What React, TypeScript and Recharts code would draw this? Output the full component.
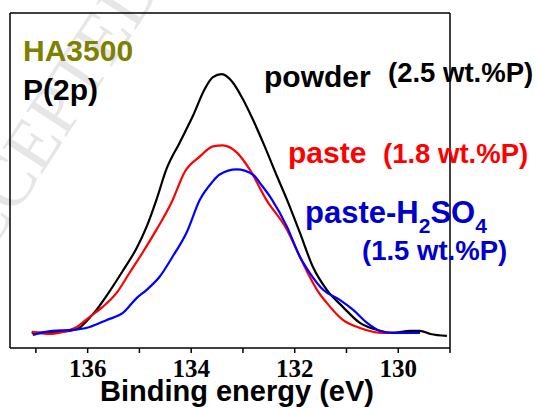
import React from "react";
import { LineChart, Line, XAxis, YAxis } from "recharts";

// binding energy (eV) and intensity (a.u., baseline = 0)
const powderE = [137.08, 136.54, 136.2, 136.0, 135.83, 135.57, 135.32, 135.06, 134.86, 134.67, 134.48, 134.22, 133.97, 133.74, 133.58, 133.41, 133.2, 133.0, 132.81, 132.58, 132.34, 132.15, 131.9, 131.65, 131.38, 131.07, 130.74, 130.41, 130.1, 129.77, 129.58, 129.38, 129.06];
const powderI = [0, 0.05, 0.2, 0.65, 1.15, 2.1, 3.1, 4.2, 5.3, 6.65, 8.15, 9.5, 10.8, 12.15, 12.75, 12.9, 12.5, 11.65, 10.65, 9.3, 7.8, 6.65, 5.0, 3.3, 2.15, 1.3, 0.5, 0.15, 0, 0.1, 0.1, -0.05, -0.15];

const pasteE = [137.08, 136.73, 136.48, 136.21, 135.96, 135.71, 135.44, 135.19, 134.94, 134.67, 134.38, 134.12, 133.83, 133.58, 133.39, 133.12, 132.87, 132.55, 132.15, 131.9, 131.71, 131.57, 131.38, 131.07, 130.74, 130.29, 129.97];
const pasteI = [0.05, -0.05, 0.05, 0.3, 0.8, 1.3, 2.0, 3.0, 4.0, 5.15, 6.5, 8.05, 8.8, 9.3, 9.35, 9.0, 8.15, 6.65, 5.15, 3.8, 2.8, 2.15, 1.5, 0.65, 0.25, 0, 0];

const acidE = [137.06, 136.68, 136.29, 135.96, 135.63, 135.32, 135.05, 134.86, 134.61, 134.36, 134.09, 133.83, 133.6, 133.45, 133.12, 132.81, 132.62, 132.44, 132.15, 131.9, 131.71, 131.45, 131.13, 130.87, 130.6, 130.35, 130.1, 129.58];
const acidI = [-0.1, 0.1, 0.15, 0.3, 0.65, 1.0, 1.75, 2.15, 2.8, 3.8, 5.0, 6.65, 7.5, 7.9, 8.15, 7.9, 7.3, 6.65, 5.3, 3.8, 3.0, 2.15, 1.65, 1.15, 0.5, 0.1, 0, 0];

const xTicks = [129, 130, 131, 132, 133, 134, 135, 136, 137];
const yTicks = [0, 1, 2, 3, 4, 5, 6, 7, 8, 9, 10, 11, 12, 13, 14, 15];

const toRows = (es: number[], is: number[]) => es.map((e, k) => ({ e, i: is[k] }));
const powderData = toRows(powderE, powderI);
const pasteData = toRows(pasteE, pasteI);
const acidData = toRows(acidE, acidI);

const W = 538;
const H = 409;
const sans = "'Liberation Sans', Arial, sans-serif";
const serif = "'Liberation Serif', 'Times New Roman', serif";
const axisStroke = { stroke: "#000", strokeWidth: 1.5 };

// only even energies get a label, in bold serif like the original
const EnergyTick = (props: any) => {
  const { x, y, payload } = props;
  if (payload.value % 2 !== 0) return <g />;
  return (
    <text x={x} y={y + 17} textAnchor="middle" fontFamily={serif} fontWeight="bold" fontSize={25} fill="#000">
      {payload.value}
    </text>
  );
};

export default function App() {
  return (
    <div style={{ position: "absolute", left: 0, top: 0, width: W, height: H, background: "#fff" }}>
      {/* faint watermark behind the plot */}
      <svg width={W} height={H} style={{ position: "absolute", left: 0, top: 0 }}>
        <text
          x={0}
          y={0}
          transform="translate(-40,300) rotate(-57)"
          fontFamily={serif}
          fontSize={72}
          fill="#e6e6e6"
        >
          ACCEPTED MANUSCRIPT
        </text>
      </svg>

      <div style={{ position: "absolute", left: 0, top: 0 }}>
        <LineChart width={W} height={H} margin={{ top: 13, right: 87, bottom: 31, left: 10 }}>
          <XAxis
            xAxisId={0}
            dataKey="e"
            type="number"
            domain={[129, 137.5]}
            reversed
            allowDataOverflow
            ticks={xTicks}
            interval={0}
            tick={<EnergyTick />}
            tickSize={5}
            tickMargin={7}
            height={30}
            axisLine={axisStroke}
            tickLine={axisStroke}
          />
          <XAxis
            xAxisId="top"
            orientation="top"
            dataKey="e"
            type="number"
            domain={[129, 137.5]}
            reversed
            allowDataOverflow
            ticks={xTicks}
            interval={0}
            mirror
            tick={false}
            tickSize={3}
            height={1}
            axisLine={axisStroke}
            tickLine={axisStroke}
          />
          <YAxis
            yAxisId={0}
            type="number"
            domain={[-0.75, 15.95]}
            allowDataOverflow
            ticks={yTicks}
            interval={0}
            mirror
            tick={false}
            tickSize={3}
            width={1}
            axisLine={axisStroke}
            tickLine={axisStroke}
          />
          <YAxis
            yAxisId="right"
            orientation="right"
            type="number"
            domain={[-0.75, 15.95]}
            allowDataOverflow
            ticks={yTicks}
            interval={0}
            tick={false}
            tickSize={3}
            width={1}
            axisLine={axisStroke}
            tickLine={axisStroke}
          />
          <Line data={powderData} dataKey="i" type="monotone" stroke="#000000" strokeWidth={2.2} dot={false} isAnimationActive={false} />
          <Line data={pasteData} dataKey="i" type="monotone" stroke="#ff0000" strokeWidth={2.2} dot={false} isAnimationActive={false} />
          <Line data={acidData} dataKey="i" type="monotone" stroke="#0000ff" strokeWidth={2.2} dot={false} isAnimationActive={false} />
        </LineChart>
      </div>

      {/* annotations */}
      <svg width={W} height={H} style={{ position: "absolute", left: 0, top: 0, pointerEvents: "none" }}>
        <g fontFamily={sans} fontWeight="bold">
          <text x={23} y={61} fontSize={30} fill="#808000">HA3500</text>
          <text x={23} y={100} fontSize={30} fill="#000">P(2p)</text>
          <text x={264} y={87} fontSize={30} fill="#000">powder</text>
          <text x={388} y={82} fontSize={27.5} fill="#000">(2.5 wt.%P)</text>
          <text x={288} y={163} fontSize={30} fill="#ff0000">paste</text>
          <text x={383} y={163} fontSize={27.5} fill="#ff0000">(1.8 wt.%P)</text>
          <text x={305} y={223} fontSize={31} fill="#0000cc">
            paste-H
            <tspan fontSize={21} dy={10}>2</tspan>
            <tspan dy={-10}>SO</tspan>
            <tspan fontSize={21} dy={10}>4</tspan>
          </text>
          <text x={362} y={260} fontSize={27.5} fill="#0000cc">(1.5 wt.%P)</text>
          <text x={100} y={401} fontSize={29} fill="#000">Binding energy (eV)</text>
        </g>
      </svg>
    </div>
  );
}
